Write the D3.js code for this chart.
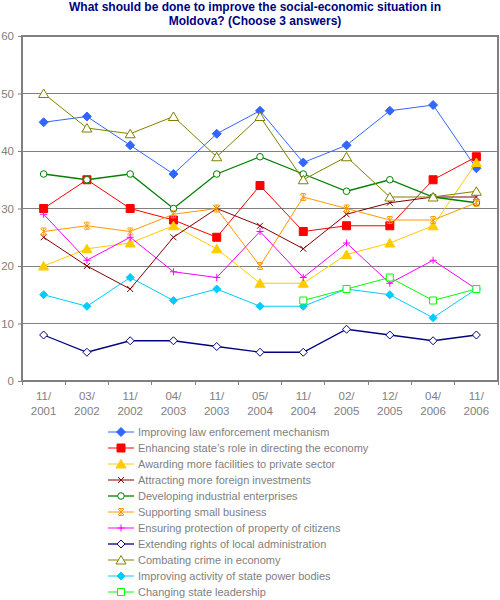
<!DOCTYPE html>
<html>
<head>
  <meta charset="utf-8">
  <title>Moldova social-economic situation</title>
  <style>
    body { margin: 0; background: #fff; }
    text { font-family: "Liberation Sans", Arial, sans-serif; }
    .title { font-weight: bold; fill: #000080; font-size: 12px; }
    .tick-label { fill: #808080; font-size: 11.5px; }
    .legend-label { fill: #808080; font-size: 11px; }
  </style>
</head>
<body>
  <svg id="chart"></svg>

  <script src="https://d3js.org/d3.v7.min.js"></script>
  <script>
    // survey waves
    const categories = ["11/2001", "03/2002", "11/2002", "04/2003", "11/2003", "05/2004",
                        "11/2004", "02/2005", "12/2005", "04/2006", "11/2006"];
    const yTicks = [0, 10, 20, 30, 40, 50, 60];

    // answers, %
    const lawEnforcement   = [45, 46, 41, 36, 43, 47, 38, 41, 47, 48, 37];
    const stateRole        = [30, 35, 30, 28, 25, 34, 26, 27, 27, 35, 39];
    const privateSector    = [20, 23, 24, 27, 23, 17, 17, 22, 24, 27, 38];
    const foreignInvest    = [25, 20, 16, 25, 30, 27, 23, 29, 31, 32, 32];
    const industrial       = [36, 35, 36, 30, 36, 39, 36, 33, 35, 32, 31];
    const smallBusiness    = [26, 27, 26, 29, 30, 20, 32, 30, 28, 28, 31];
    const propertyRights   = [29, 21, 25, 19, 18, 26, 18, 24, 17, 21, 16];
    const localAdmin       = [8, 5, 7, 7, 6, 5, 5, 9, 8, 7, 8];
    const combatingCrime   = [50, 44, 43, 46, 39, 46, 35, 39, 32, 32, 33];
    const statePower       = [15, 13, 18, 14, 16, 13, 13, 16, 15, 11, 16];
    const stateLeadership  = [null, null, null, null, null, null, 14, 16, 18, 14, 16];

    const series = [
      { name: "Improving law enforcement mechanism", values: lawEnforcement, color: "#3366FF", marker: "diamondFill", width: 1 },
      { name: "Enhancing state\u2019s role in directing the economy", values: stateRole, color: "#FF0000", marker: "squareFill", width: 1 },
      { name: "Awarding more facilities to private sector", values: privateSector, color: "#FFCC00", marker: "triangleFill", width: 1 },
      { name: "Attracting more foreign investments", values: foreignInvest, color: "#800000", marker: "cross", width: 1 },
      { name: "Developing industrial enterprises", values: industrial, color: "#008000", marker: "circleOpen", width: 1.3 },
      { name: "Supporting small business", values: smallBusiness, color: "#FF9900", marker: "asterisk", width: 1 },
      { name: "Ensuring protection of property of citizens", values: propertyRights, color: "#FF00FF", marker: "plus", width: 1 },
      { name: "Extending rights of local administration", values: localAdmin, color: "#000080", marker: "diamondOpen", width: 1.3 },
      { name: "Combating crime in economy", values: combatingCrime, color: "#808000", marker: "triangleOpen", width: 1 },
      { name: "Improving activity of state power bodies", values: statePower, color: "#00CCFF", marker: "diamondSmall", width: 1 },
      { name: "Changing state leadership", values: stateLeadership, color: "#00FF00", marker: "squareOpen", width: 1 }
    ];

    const W = 500, H = 600;
    const plot = { left: 22, right: 498, top: 36, bottom: 381 };

    const svg = d3.select("#chart").attr("width", W).attr("height", H);

    const x = d3.scaleBand().domain(categories).range([plot.left, plot.right]);
    const y = d3.scaleLinear().domain([0, 60]).range([plot.bottom, plot.top]);
    const cx = c => x(c) + x.bandwidth() / 2;

    // title
    svg.append("text").attr("class", "title").attr("x", 255).attr("y", 11)
      .attr("text-anchor", "middle")
      .text("What should be done to improve the social-economic situation in");
    svg.append("text").attr("class", "title").attr("x", 255).attr("y", 25)
      .attr("text-anchor", "middle")
      .text("Moldova? (Choose 3 answers)");

    // grid lines
    svg.append("g").selectAll("line")
      .data(yTicks.filter(d => d > 0 && d < 60))
      .join("line")
      .attr("x1", plot.left).attr("x2", plot.right)
      .attr("y1", d => y(d)).attr("y2", d => y(d))
      .attr("stroke", "#808080").attr("stroke-width", 1).attr("shape-rendering", "crispEdges");

    // plot border
    svg.append("rect")
      .attr("x", plot.left).attr("y", plot.top)
      .attr("width", plot.right - plot.left).attr("height", plot.bottom - plot.top)
      .attr("fill", "none").attr("stroke", "#808080").attr("stroke-width", 1.3)
      .attr("shape-rendering", "crispEdges");

    // y axis
    const yAxis = svg.append("g")
      .attr("transform", `translate(${plot.left},0)`)
      .call(d3.axisLeft(y).tickValues(yTicks).tickSize(4).tickPadding(4));
    yAxis.select(".domain").remove();
    yAxis.selectAll("line").attr("stroke", "#808080");
    yAxis.selectAll("text").attr("class", "tick-label").attr("font-family", null).attr("font-size", null);

    // x axis: ticks between categories, two-line labels
    const bounds = categories.map(c => x(c)).concat([plot.right]);
    svg.append("g").selectAll("line")
      .data(bounds)
      .join("line")
      .attr("x1", d => d).attr("x2", d => d)
      .attr("y1", plot.bottom).attr("y2", plot.bottom + 4)
      .attr("stroke", "#808080").attr("shape-rendering", "crispEdges");

    const xl = svg.append("g").selectAll("text")
      .data(categories)
      .join("text")
      .attr("class", "tick-label")
      .attr("text-anchor", "middle")
      .attr("x", d => cx(d));
    xl.append("tspan").attr("x", d => cx(d)).attr("y", 400).text(d => d.split("/")[0] + "/");
    xl.append("tspan").attr("x", d => cx(d)).attr("y", 415).text(d => d.split("/")[1]);

    // marker shapes
    function markerPath(type) {
      switch (type) {
        case "diamondFill": return "M0,-4.5L4.5,0L0,4.5L-4.5,0Z";
        case "diamondSmall": return "M0,-4L4,0L0,4L-4,0Z";
        case "diamondOpen": return "M0,-4L4,0L0,4L-4,0Z";
        case "squareFill": return "M-4,-4H4V4H-4Z";
        case "squareOpen": return "M-3.5,-3.5H3.5V3.5H-3.5Z";
        case "triangleFill": return "M0,-4.5L5,4L-5,4Z";
        case "triangleOpen": return "M0,-4.5L5,4L-5,4Z";
        case "circleOpen": return d3.symbol(d3.symbolCircle, 34)();
        case "cross": return "M-3,-3L3,3M3,-3L-3,3";
        case "plus": return "M-3.5,0H3.5M0,-3.5V3.5";
        case "asterisk": return "M-3,-3L3,3M3,-3L-3,3M0,-3.5V3.5M-2.5,-3.5H2.5M-2.5,3.5H2.5";
      }
    }
    function drawMarker(g, s) {
      const filled = /Fill|Small/.test(s.marker);
      const lineOnly = ["cross", "plus", "asterisk"].includes(s.marker);
      g.append("path")
        .attr("d", markerPath(s.marker))
        .attr("fill", lineOnly ? "none" : (filled ? s.color : "#fff"))
        .attr("stroke", s.color)
        .attr("stroke-width", 1);
    }

    const line = d3.line()
      .defined(d => d.v !== null)
      .x(d => cx(d.c))
      .y(d => y(d.v));

    series.forEach(s => {
      const pts = categories.map((c, i) => ({ c: c, v: s.values[i] }));
      const g = svg.append("g");
      g.append("path")
        .datum(pts)
        .attr("d", line)
        .attr("fill", "none")
        .attr("stroke", s.color)
        .attr("stroke-width", s.width);
      pts.filter(d => d.v !== null).forEach(d => {
        const m = g.append("g").attr("transform", `translate(${cx(d.c)},${y(d.v)})`);
        drawMarker(m, s);
      });
    });

    // legend
    const legend = svg.append("g");
    series.forEach((s, i) => {
      const ly = 432 + i * 16;
      const row = legend.append("g").attr("transform", `translate(0,${ly})`);
      row.append("line").attr("x1", 108).attr("x2", 134).attr("y1", 0).attr("y2", 0)
        .attr("stroke", s.color).attr("stroke-width", s.width);
      const m = row.append("g").attr("transform", "translate(121,0)");
      drawMarker(m, s);
      row.append("text").attr("class", "legend-label")
        .attr("x", 138).attr("y", 4).text(s.name);
    });
  </script>
</body>
</html>
